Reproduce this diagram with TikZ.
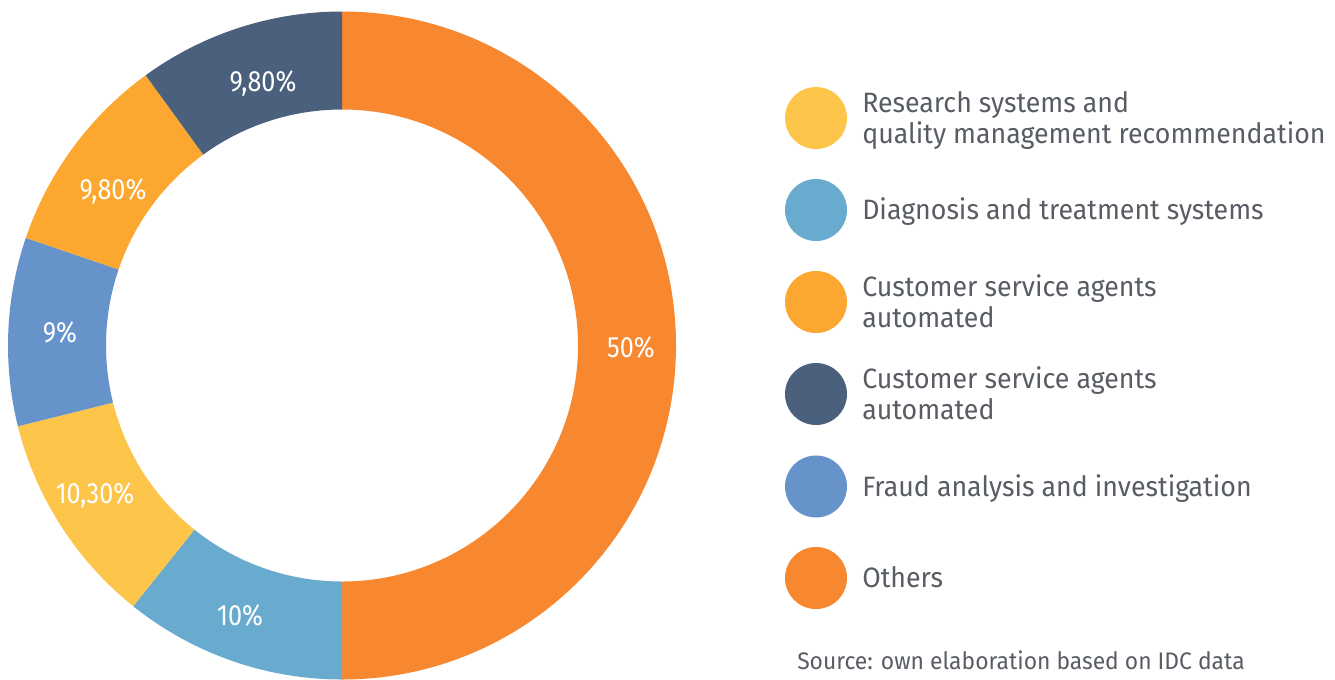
\documentclass[tikz,border=0pt]{standalone}
\usepackage{fontspec}
\IfFontExistsTF{FiraSans-Light.otf}{%
  \setmainfont{FiraSans-Light.otf}
  \newfontfamily\pctfont{FiraSans-Light.otf}[FakeStretch=0.86]
  \newfontfamily\legfont{FiraSans-Light.otf}[FakeStretch=0.955]
}{%
  \setmainfont{Fira Sans}
  \newfontfamily\pctfont{Fira Sans}[FakeStretch=0.86]
  \newfontfamily\legfont{Fira Sans}[FakeStretch=0.955]
}
\definecolor{cOrange}{HTML}{F7882F}
\definecolor{cLBlue}{HTML}{68ABCE}
\definecolor{cYellow}{HTML}{FDC54A}
\definecolor{cBlue}{HTML}{6793CB}
\definecolor{cLOrange}{HTML}{FCA72F}
\definecolor{cNavy}{HTML}{4A607C}
\definecolor{cText}{HTML}{585C63}
\tikzset{
  pct/.style={text=white, font=\pctfont\fontsize{22}{26}\selectfont, inner sep=0pt, anchor=base},
  legtext/.style={text=cText, font=\legfont\fontsize{21}{24}\selectfont, inner sep=0pt, anchor=base west},
  srctext/.style={text=cText, font=\legfont\fontsize{17.95}{20}\selectfont, inner sep=0pt, anchor=base west},
  dot/.style={circle, inner sep=0pt, minimum size=46.5pt}
}
\newcommand{\ringseg}[3]{%
  \fill[#1] (#2:334) arc[start angle=#2, end angle=#3, radius=334]
    -- (#3:236) arc[start angle=#3, end angle=#2, radius=236] -- cycle;}
\begin{document}
\begin{tikzpicture}[x=0.75pt, y=-0.75pt]
\path[use as bounding box] (0,0) rectangle (1335,679);
\begin{scope}[shift={(342,345.5)}]
  \ringseg{cOrange}{-90}{90}
  \ringseg{cLBlue}{90}{128.7}
  \ringseg{cYellow}{128.7}{166}
  \ringseg{cBlue}{166}{198.8}
  \ringseg{cLOrange}{198.8}{234}
  \ringseg{cNavy}{234}{270}
\end{scope}
% percentage labels
\node[pct] (p50) at (631,357) {50\%};
\node[pct] (p10) at (240,625) {10\%};
\node[pct] (p103) at (95,503) {10,30\%};
\node[pct] (p9) at (60,342) {9\%};
\node[pct] (p98a) at (113,199) {9,80\%};
\node[pct] (p98b) at (263,91) {9,80\%};
% legend
\node[dot, fill=cYellow] (d1) at (816,118) {};
\node[dot, fill=cLBlue] (d2) at (816,210) {};
\node[dot, fill=cLOrange] (d3) at (816,302) {};
\node[dot, fill=cNavy] (d4) at (816,394) {};
\node[dot, fill=cBlue] (d5) at (816,486.5) {};
\node[dot, fill=cOrange] (d6) at (816,578) {};
\node[legtext] (t1a) at (862,112) {Research systems and};
\node[legtext] (t1b) at (862,143) {quality management recommendation};
\node[legtext] (t2) at (862,219) {Diagnosis and treatment systems};
\node[legtext] (t3a) at (862,296) {Customer service agents};
\node[legtext] (t3b) at (862,327) {automated};
\node[legtext] (t4a) at (862,388) {Customer service agents};
\node[legtext] (t4b) at (862,419) {automated};
\node[legtext] (t5) at (862,496) {Fraud analysis and investigation};
\node[legtext] (t6) at (862,587) {Others};
\node[srctext] (src) at (797,669) {Source: own elaboration based on IDC data};
\end{tikzpicture}
\end{document}
